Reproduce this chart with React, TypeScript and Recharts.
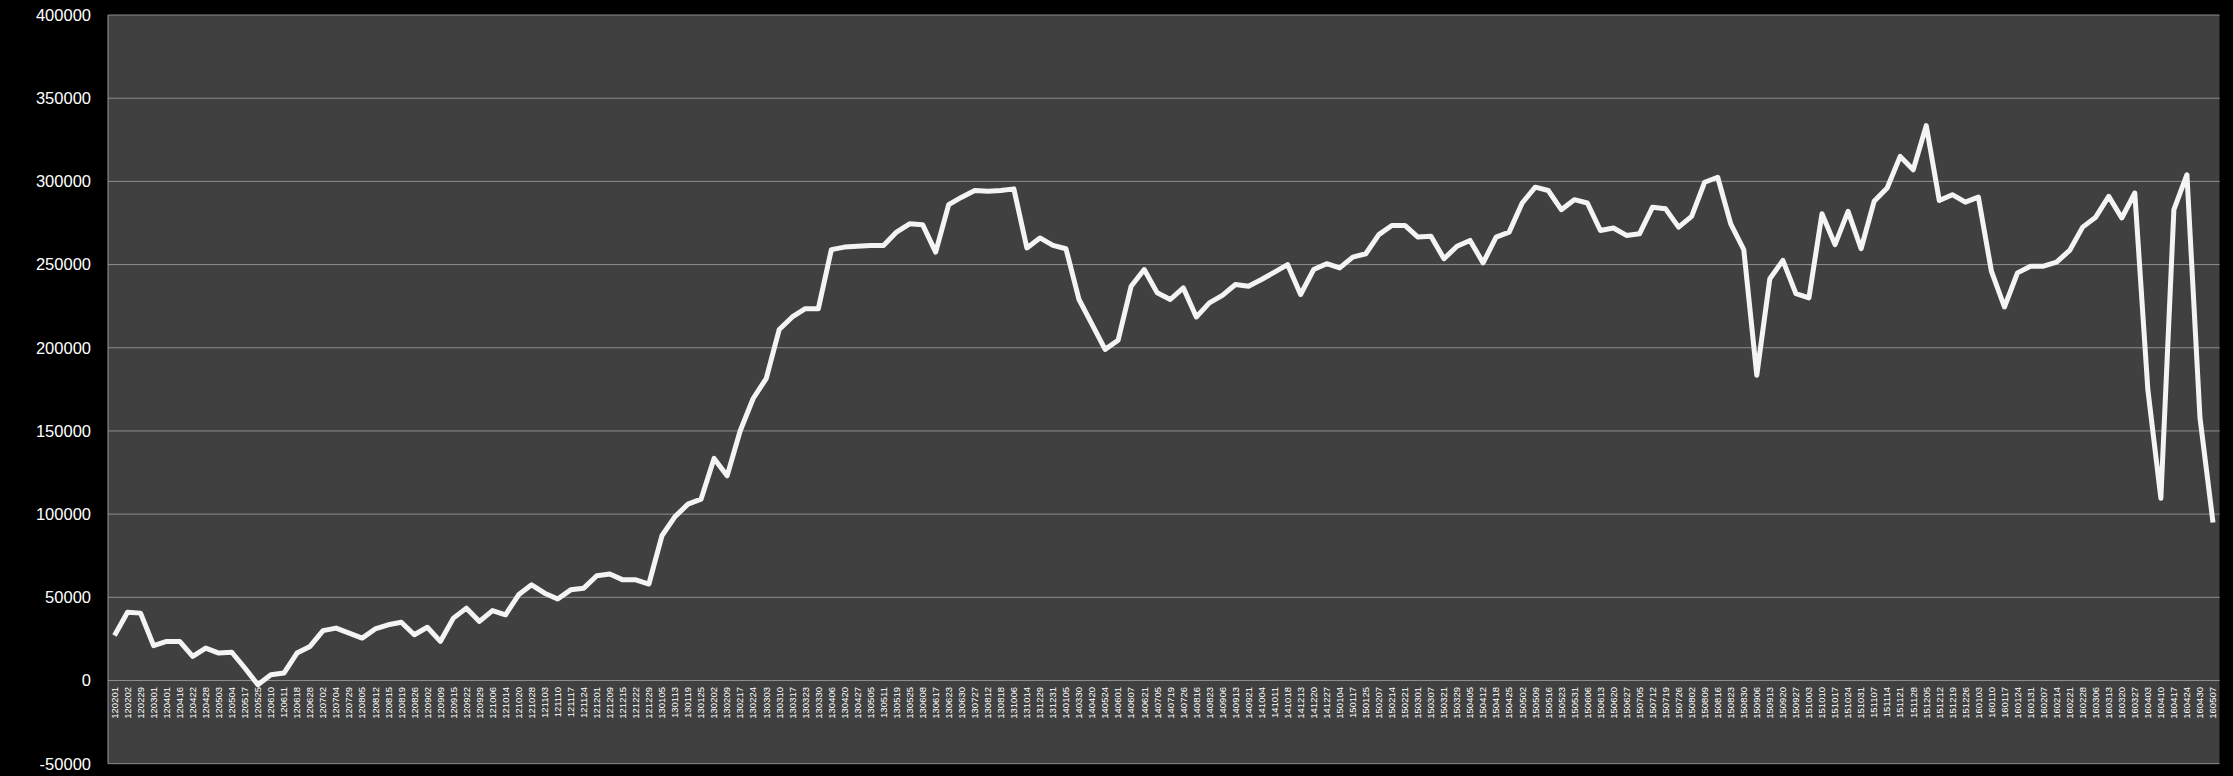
import { LineChart, Line, XAxis, YAxis, CartesianGrid } from "recharts";

const DATES = [
  "120201", "120202", "120229", "120301", "120401", "120416", "120422", "120428", "120503", "120504",
  "120517", "120525", "120610", "120611", "120618", "120628", "120702", "120704", "120729", "120805",
  "120812", "120815", "120819", "120826", "120902", "120909", "120915", "120922", "120929", "121006",
  "121014", "121020", "121028", "121103", "121110", "121117", "121124", "121201", "121209", "121215",
  "121222", "121229", "130105", "130113", "130119", "130125", "130202", "130209", "130217", "130224",
  "130303", "130310", "130317", "130323", "130330", "130406", "130420", "130427", "130505", "130511",
  "130519", "130525", "130608", "130617", "130623", "130630", "130727", "130812", "130818", "131006",
  "131014", "131229", "131231", "140105", "140330", "140420", "140524", "140601", "140607", "140621",
  "140705", "140719", "140726", "140816", "140823", "140906", "140913", "140921", "141004", "141011",
  "141018", "141213", "141220", "141227", "150104", "150117", "150125", "150207", "150214", "150221",
  "150301", "150307", "150321", "150329", "150405", "150412", "150418", "150425", "150502", "150509",
  "150516", "150523", "150531", "150606", "150613", "150620", "150627", "150705", "150712", "150719",
  "150726", "150802", "150809", "150816", "150823", "150830", "150906", "150913", "150920", "150927",
  "151003", "151010", "151017", "151024", "151031", "151107", "151114", "151121", "151128", "151205",
  "151212", "151219", "151226", "160103", "160110", "160117", "160124", "160131", "160207", "160214",
  "160221", "160228", "160306", "160313", "160320", "160327", "160403", "160410", "160417", "160424",
  "160430", "160507",
];

const VALUES = [
  27000, 41000, 40500, 21000, 23500, 23500, 14500, 19500, 16500, 17000,
  7500, -2500, 3500, 4500, 16500, 20500, 30000, 31500, 28500, 25500,
  31000, 33500, 35000, 27500, 32000, 23500, 37500, 43500, 35500, 42000,
  39500, 51500, 57500, 52500, 49000, 54500, 55500, 63000, 64000, 60500,
  60500, 58000, 87000, 98500, 106000, 109000, 133500, 123000, 150000, 169500,
  181500, 211000, 218500, 223500, 223500, 259000, 260500, 261000, 261500, 261500,
  269500, 274500, 274000, 257500, 286000, 290500, 294500, 294000, 294500, 295500,
  260000, 266000, 261500, 259500, 229000, 214000, 199000, 204500, 237000, 247000,
  233000, 229000, 236000, 218500, 227000, 231500, 238000, 237000, 241000, 245500,
  250000, 232000, 247000, 250500, 248000, 254500, 256500, 268000, 273500, 273500,
  266500, 267000, 253500, 261000, 264500, 251000, 266500, 269500, 287000, 296500,
  294500, 283000, 289000, 287000, 270500, 272000, 267500, 268500, 284500, 283500,
  272500, 279000, 299500, 302500, 274500, 259000, 183500, 241500, 252500, 232500,
  230000, 280500, 262000, 282000, 259500, 288000, 296000, 315000, 307000, 333500,
  288500, 292000, 287500, 290500, 246000, 224500, 245000, 249000, 249000, 251500,
  258500, 272500, 278500, 291000, 278000, 293000, 175000, 109500, 283000, 304000,
  158000, 95000,
];

const Y_TICKS = [-50000, 0, 50000, 100000, 150000, 200000, 250000, 300000, 350000, 400000];

const W = 2233;
const H = 776;
const X_AXIS_H = 1;
const MARGIN = { top: 15, right: 13.5, bottom: 11.3, left: 8 };
const Y_MIN = -50000;
const Y_MAX = 400000;
// distance from the plot bottom up to the zero line
const PLOT_H = H - MARGIN.top - MARGIN.bottom - X_AXIS_H;
const ZERO_LIFT = (PLOT_H * (0 - Y_MIN)) / (Y_MAX - Y_MIN);

const data = DATES.map((date, i) => ({ date, value: VALUES[i] }));

function DateTick(props: any) {
  const { x, y, payload } = props;
  const top = y - ZERO_LIFT + 6.5;
  return (
    <text
      x={x}
      y={top}
      dy="0.35em"
      transform={`rotate(-90 ${x} ${top})`}
      textAnchor="end"
      fill="#ffffff"
      fontSize={9.5}
      fontFamily="'Liberation Sans', Arial, sans-serif"
    >
      {payload.value}
    </text>
  );
}

export default function App() {
  return (
    <div style={{ width: W, height: H, background: "#000" }}>
      <style>{"body{margin:0;background:#000}"}</style>
      <LineChart width={W} height={H} data={data} margin={MARGIN}>
        <CartesianGrid
          vertical={false}
          stroke="#8c8c8c"
          fill="#404040"
          fillOpacity={1}
        />
        <XAxis
          dataKey="date"
          height={X_AXIS_H}
          interval={0}
          padding={{ left: 6.5, right: 6.5 }}
          axisLine={false}
          tickLine={false}
          tickSize={0}
          tickMargin={0}
          tick={(p: any) => <DateTick {...p} />}
        />
        <YAxis
          width={100}
          domain={[Y_MIN, Y_MAX]}
          ticks={Y_TICKS}
          interval={0}
          axisLine={{ stroke: "#9a9a9a" }}
          tickLine={false}
          tickSize={0}
          tickMargin={17}
          tick={{ fill: "#ffffff", fontSize: 16.5, fontFamily: "'Liberation Sans', Arial, sans-serif" }}
        />
        <YAxis
          yAxisId="edge"
          orientation="right"
          width={0}
          domain={[Y_MIN, Y_MAX]}
          tick={false}
          tickLine={false}
          axisLine={{ stroke: "#9a9a9a" }}
        />
        <Line
          type="linear"
          dataKey="value"
          stroke="#f4f4f4"
          strokeWidth={5}
          strokeLinejoin="round"
          dot={false}
          isAnimationActive={false}
        />
      </LineChart>
    </div>
  );
}
